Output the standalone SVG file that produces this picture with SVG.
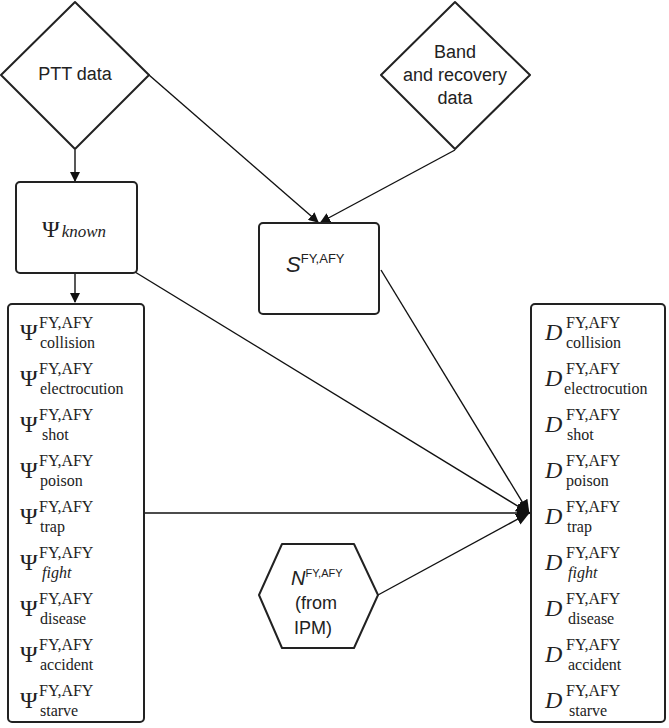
<svg xmlns="http://www.w3.org/2000/svg" width="669" height="728" viewBox="0 0 669 728">
<style>
.s{fill:#fff;stroke:#222;stroke-width:2}
.c{stroke:#111;stroke-width:1.4;fill:none}
.t{font-family:"Liberation Sans",Arial,sans-serif;font-size:18px;fill:#222;text-anchor:middle}
.m{font-family:"Liberation Serif","DejaVu Serif",serif;fill:#222}
.b{font-size:24px}
.p{font-size:16px}
</style>
<defs>
<marker id="a" markerWidth="10" markerHeight="10" refX="9" refY="5" orient="auto" markerUnits="userSpaceOnUse"><path d="M0,0 L10,5 L0,10 z" fill="#111"/></marker>
<marker id="j" markerWidth="14" markerHeight="14" refX="13" refY="7" orient="auto" markerUnits="userSpaceOnUse"><path d="M0,1 L14,7 L0,13 z" fill="#111"/></marker>
</defs>
<g id="connectors">
<line class="c" x1="75" y1="150" x2="75" y2="181" marker-end="url(#a)"/>
<line class="c" x1="75" y1="273" x2="75" y2="302" marker-end="url(#a)"/>
<line class="c" x1="149" y1="75" x2="318" y2="222" marker-end="url(#a)"/>
<line class="c" x1="455" y1="150" x2="321" y2="222" marker-end="url(#a)"/>
<line class="c" x1="135" y1="272" x2="529" y2="513" marker-end="url(#j)"/>
<line class="c" x1="381" y1="270" x2="529" y2="513" marker-end="url(#j)"/>
<line class="c" x1="145" y1="513" x2="530" y2="513" marker-end="url(#j)"/>
<line class="c" x1="378" y1="595" x2="529" y2="513" marker-end="url(#j)"/>
</g>
<g id="ptt"><path class="s" d="M75,2 L149,75 L75,149 L1,75 z" stroke-linejoin="round"/><text class="t" x="75" y="80">PTT data</text></g>
<g id="band"><path class="s" d="M455,2 L530,75 L455,149 L381,75 z" stroke-linejoin="round"/><text class="t" x="455" y="58">Band</text><text class="t" x="455" y="81">and recovery</text><text class="t" x="455" y="104">data</text></g>
<g id="psiknown"><rect class="s" x="16" y="182" width="121" height="91" rx="4"/><text class="m" x="42" y="237"><tspan class="b">Ψ</tspan><tspan font-size="17" font-style="italic" dx="2">known</tspan></text></g>
<g id="s"><rect class="s" x="259" y="223" width="120" height="91" rx="4"/><text x="286" y="272" style="font-family:'Liberation Sans',Arial,sans-serif;fill:#222"><tspan font-size="22" font-style="italic">S</tspan><tspan font-size="13" dy="-9">FY,AFY</tspan></text></g>
<g id="n"><path class="s" d="M282,544 L354,544 L378,595 L354,648 L282,648 L259,595 z" stroke-linejoin="round"/><text x="291" y="585" style="font-family:'Liberation Sans',Arial,sans-serif;fill:#222"><tspan font-size="20" font-style="italic">N</tspan><tspan font-size="11" dy="-8">FY,AFY</tspan></text><text class="t" x="316" y="609">(from</text><text class="t" x="313" y="634">IPM)</text></g>
<g id="psilist"><rect class="s" x="8" y="304" width="136" height="418" rx="4"/>
<g class="m">
<text x="20" y="340" class="b">Ψ</text><text x="39" y="328" class="p">FY,AFY</text><text x="40" y="348" class="p">collision</text>
<text x="20" y="386" class="b">Ψ</text><text x="39" y="374" class="p">FY,AFY</text><text x="40" y="394" class="p">electrocution</text>
<text x="20" y="432" class="b">Ψ</text><text x="39" y="420" class="p">FY,AFY</text><text x="42" y="440" class="p">shot</text>
<text x="20" y="478" class="b">Ψ</text><text x="39" y="466" class="p">FY,AFY</text><text x="40" y="486" class="p">poison</text>
<text x="20" y="524" class="b">Ψ</text><text x="39" y="512" class="p">FY,AFY</text><text x="40" y="532" class="p">trap</text>
<text x="20" y="570" class="b">Ψ</text><text x="39" y="558" class="p">FY,AFY</text><text x="42" y="578" class="p" font-style="italic">fight</text>
<text x="20" y="616" class="b">Ψ</text><text x="39" y="604" class="p">FY,AFY</text><text x="40" y="624" class="p">disease</text>
<text x="20" y="662" class="b">Ψ</text><text x="39" y="650" class="p">FY,AFY</text><text x="40" y="670" class="p">accident</text>
<text x="20" y="708" class="b">Ψ</text><text x="39" y="696" class="p">FY,AFY</text><text x="40" y="716" class="p">starve</text>
</g></g>
<g id="dlist"><rect class="s" x="531" y="304" width="134" height="418" rx="4"/>
<g class="m" font-style="normal">
<text x="545" y="340" class="b" font-style="italic">D</text><text x="566" y="328" class="p">FY,AFY</text><text x="566" y="348" class="p">collision</text>
<text x="545" y="386" class="b" font-style="italic">D</text><text x="566" y="374" class="p">FY,AFY</text><text x="564" y="394" class="p">electrocution</text>
<text x="545" y="432" class="b" font-style="italic">D</text><text x="566" y="420" class="p">FY,AFY</text><text x="567" y="440" class="p">shot</text>
<text x="545" y="478" class="b" font-style="italic">D</text><text x="566" y="466" class="p">FY,AFY</text><text x="566" y="486" class="p">poison</text>
<text x="545" y="524" class="b" font-style="italic">D</text><text x="566" y="512" class="p">FY,AFY</text><text x="567" y="532" class="p">trap</text>
<text x="545" y="570" class="b" font-style="italic">D</text><text x="566" y="558" class="p">FY,AFY</text><text x="568" y="578" class="p" font-style="italic">fight</text>
<text x="545" y="616" class="b" font-style="italic">D</text><text x="566" y="604" class="p">FY,AFY</text><text x="568" y="624" class="p">disease</text>
<text x="545" y="662" class="b" font-style="italic">D</text><text x="566" y="650" class="p">FY,AFY</text><text x="568" y="670" class="p">accident</text>
<text x="545" y="708" class="b" font-style="italic">D</text><text x="566" y="696" class="p">FY,AFY</text><text x="569" y="716" class="p">starve</text>
</g></g>
</svg>
